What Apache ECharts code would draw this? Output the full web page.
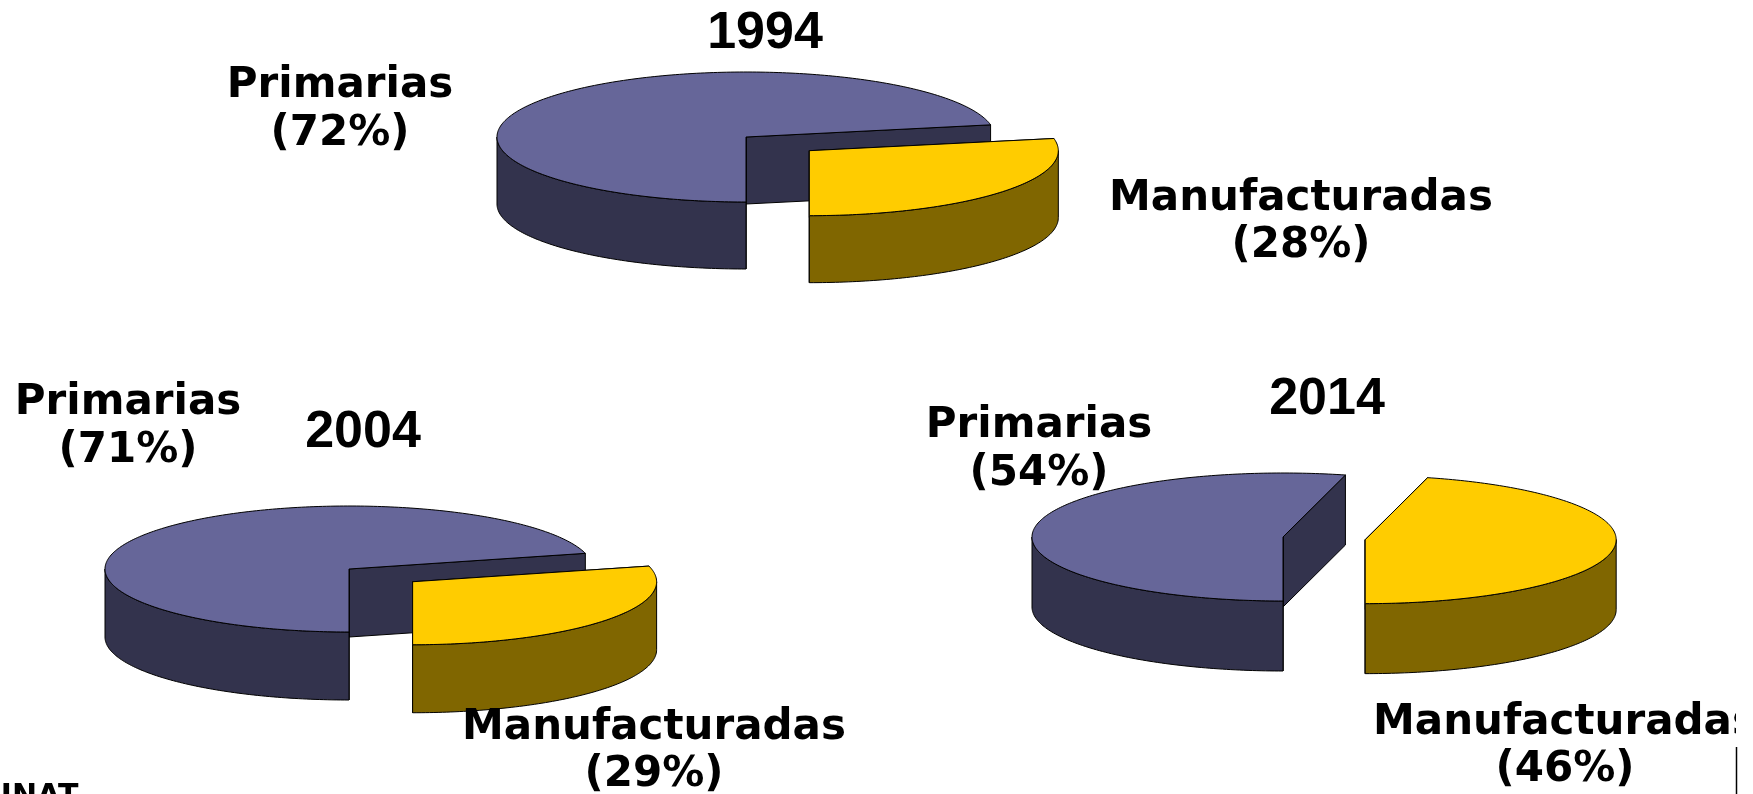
<!DOCTYPE html>
<html>
<head>
<meta charset="utf-8">
<script src="https://cdn.jsdelivr.net/npm/echarts@6/dist/echarts.min.js"></script>
<style>
html, body { margin: 0; padding: 0; background: #fff; }
#main { width: 1753px; height: 794px; }
</style>
</head>
<body>
<div id="main"></div>
<script>
// datos
var years = ['1994', '2004', '2014'];
var categories = ['Primarias', 'Manufacturadas'];
var primarias = [72, 71, 54];
var manufacturadas = [28, 29, 46];
var source = 'SUNAT';

// posicion y tamaño de cada torta (px)
var pieLayout = [
    { cx: 746, cy: 137, rx: 249, ry: 65, h: 67 },
    { cx: 349, cy: 569, rx: 244, ry: 63, h: 68 },
    { cx: 1283, cy: 537, rx: 251, ry: 64, h: 70 }
];
var explode = 0.33;
var topColors = ['#666699', '#ffcc00'];
var sideColors = ['#33334d', '#806600'];

// etiquetas: [x, y] del centro
var primLabelPos = [[340, 110], [128, 427], [1039, 450]];
var manuLabelPos = [[1301, 223], [654, 752], [1565, 747]];
var yearPos = [[765, 34], [363, 433], [1327, 400]];

var labelFont = 'bold 42px "DejaVu Sans", Verdana, sans-serif';
var yearFont = 'bold 52px "Liberation Sans", Arial, sans-serif';

// dibuja una porcion de torta 3D
function renderSlice(lay) {
    return function (params, api) {
        var pct = api.value(0);
        var startPct = api.value(1);
        var exploded = api.value(2);
        var a0 = startPct / 100 * 2 * Math.PI;
        var a1 = (startPct + pct) / 100 * 2 * Math.PI;
        var cx = lay.cx, cy = lay.cy;
        if (exploded) {
            var m = (a0 + a1) / 2;
            cx += explode * lay.rx * Math.sin(m);
            cy += explode * lay.ry * Math.cos(m);
        }
        function pt(t, dz) {
            return [cx + lay.rx * Math.sin(t), cy + lay.ry * Math.cos(t) + (dz || 0)];
        }
        function arc(t0, t1, dz) {
            var pts = [];
            var n = Math.max(2, Math.ceil(Math.abs(t1 - t0) / (Math.PI / 180)));
            for (var i = 0; i <= n; i++) pts.push(pt(t0 + (t1 - t0) * i / n, dz));
            return pts;
        }
        var idx = params.dataIndex;
        var children = [];
        // caras de corte
        [a0, a1].forEach(function (t) {
            var p = pt(t, 0);
            children.push({
                type: 'polygon',
                shape: { points: [[cx, cy], p, [p[0], p[1] + lay.h], [cx, cy + lay.h]] },
                style: { fill: sideColors[idx], stroke: '#000', lineWidth: 1, lineJoin: 'round' }
            });
        });
        // pared exterior visible
        var vis = [[0, Math.PI / 2], [1.5 * Math.PI, 2 * Math.PI]];
        vis.forEach(function (v) {
            var s = Math.max(a0, v[0]), e = Math.min(a1, v[1]);
            if (e - s > 1e-4) {
                children.push({
                    type: 'polygon',
                    shape: { points: arc(s, e, 0).concat(arc(e, s, lay.h)) },
                    style: { fill: sideColors[idx], stroke: '#000', lineWidth: 1, lineJoin: 'round' }
                });
            }
        });
        // tapa
        children.push({
            type: 'polygon',
            shape: { points: [[cx, cy]].concat(arc(a0, a1, 0)) },
            style: { fill: topColors[idx], stroke: '#000', lineWidth: 1, lineJoin: 'round' }
        });
        return { type: 'group', children: children };
    };
}

var series = [];
var graphics = [];
for (var i = 0; i < years.length; i++) {
    series.push({
        type: 'custom',
        coordinateSystem: 'none',
        name: years[i],
        dimensions: ['pct', 'start', 'explode'],
        renderItem: renderSlice(pieLayout[i]),
        // Primarias primero (atras), Manufacturadas separada
        data: [
            [primarias[i], manufacturadas[i], 0],
            [manufacturadas[i], 0, 1]
        ]
    });
    graphics.push({
        type: 'text', x: yearPos[i][0], y: yearPos[i][1], z: 100,
        style: { text: years[i], font: yearFont, fill: '#000', align: 'center', verticalAlign: 'middle' }
    });
    graphics.push({
        type: 'text', x: primLabelPos[i][0], y: primLabelPos[i][1], z: 100,
        style: {
            text: categories[0] + '\n(' + primarias[i] + '%)', font: labelFont, fill: '#000',
            align: 'center', verticalAlign: 'middle', lineHeight: 48
        }
    });
    graphics.push({
        type: 'text', x: manuLabelPos[i][0], y: manuLabelPos[i][1], z: 100,
        style: {
            text: categories[1] + '\n(' + manufacturadas[i] + '%)', font: labelFont, fill: '#000',
            align: 'center', verticalAlign: 'middle', lineHeight: 47
        }
    });
}
// fuente (cortada abajo a la izquierda)
graphics.push({
    type: 'text', x: -34, y: 797, z: 100,
    style: { text: source, font: 'bold 30px "DejaVu Sans", Verdana, sans-serif', fill: '#000', align: 'left', verticalAlign: 'middle' }
});
// borde derecho
graphics.push({
    type: 'rect', z: 200, shape: { x: 1736, y: 0, width: 17, height: 794 }, style: { fill: '#fff' }
});
graphics.push({
    type: 'line', z: 201, shape: { x1: 1736.5, y1: 747, x2: 1736.5, y2: 794 }, style: { stroke: '#000', lineWidth: 1.5 }
});

var option = {
    backgroundColor: '#fff',
    animation: false,
    series: series,
    graphic: graphics
};
var myechart = echarts.init(document.getElementById('main'));
myechart.setOption(option);
</script>
</body>
</html>
